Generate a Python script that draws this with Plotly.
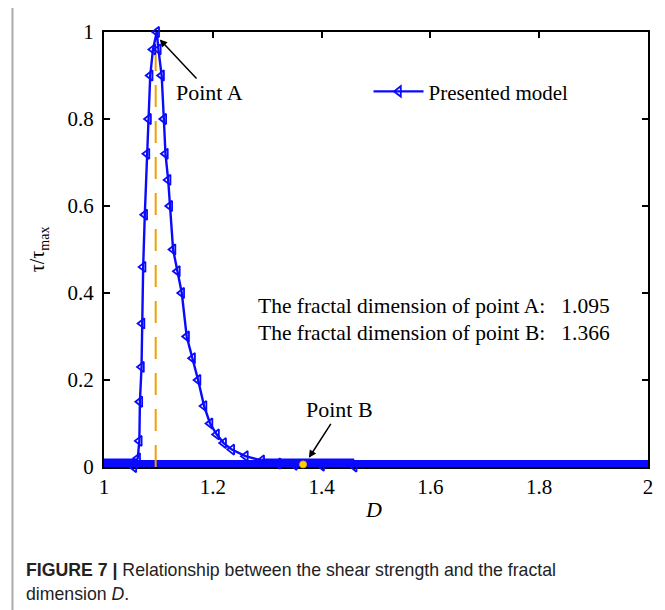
import plotly.graph_objects as go

# ---- data ----
D_curve = [1.055, 1.062, 1.065, 1.066, 1.069, 1.070, 1.072, 1.075, 1.079, 1.082, 1.085, 1.090,
           1.097, 1.100, 1.106, 1.110, 1.113, 1.118, 1.121, 1.127, 1.135, 1.143, 1.152, 1.163,
           1.173, 1.184, 1.195, 1.207, 1.220, 1.235, 1.260, 1.290, 1.320, 1.350, 1.400, 1.460]
tau_curve = [0.0, 0.02, 0.06, 0.15, 0.23, 0.33, 0.46, 0.58, 0.72, 0.80, 0.90, 0.96,
             1.0, 0.96, 0.90, 0.80, 0.72, 0.66, 0.60, 0.50, 0.45, 0.40, 0.30, 0.25,
             0.20, 0.14, 0.10, 0.075, 0.055, 0.04, 0.025, 0.015, 0.008, 0.005, 0.003, 0.001]

D_band = [1.0, 2.0]          # flat zero part of the curve
tau_band = [0.006, 0.006]
D_band_thick = [[1.0, 1.062], [1.29, 1.46]]

point_A = 1.095
point_B = 1.366

x_ticks = [1, 1.2, 1.4, 1.6, 1.8, 2]
x_tick_text = ["1", "1.2", "1.4", "1.6", "1.8", "2"]
y_ticks = [0, 0.2, 0.4, 0.6, 0.8, 1]
y_tick_text = ["0", "0.2", "0.4", "0.6", "0.8", "1"]

BLUE = "#0a0aff"
SERIF = "Liberation Serif"

# reference-pixel -> paper helpers (plot box: x 104..651, y 30..467)
PL, PW, PB, PH = 104.0, 547.0, 467.0, 437.0
def xp(px):
    return (px - PL) / PW
def yp(py):
    return (PB - py) / PH

fig = go.Figure()

# thick zero band
fig.add_trace(go.Scatter(x=D_band, y=tau_band, mode="lines",
                         line=dict(color=BLUE, width=9), showlegend=False,
                         cliponaxis=False, hoverinfo="skip"))
for seg in D_band_thick:
    fig.add_trace(go.Scatter(x=seg, y=[0.006, 0.006], mode="lines",
                             line=dict(color=BLUE, width=12), showlegend=False,
                             cliponaxis=False, hoverinfo="skip"))

# orange dashed line at point A
fig.add_trace(go.Scatter(x=[point_A, point_A], y=[0, 1], mode="lines",
                         line=dict(color="#f0a000", width=2, dash="22px,14px"),
                         showlegend=False, hoverinfo="skip"))

# main curve
fig.add_trace(go.Scatter(x=D_curve, y=tau_curve, mode="lines+markers",
                         name="Presented model",
                         line=dict(color=BLUE, width=2.4),
                         marker=dict(symbol="triangle-left-open", size=9,
                                     color=BLUE, line=dict(width=1.8, color=BLUE)),
                         cliponaxis=False))

# point B marker
fig.add_trace(go.Scatter(x=[point_B], y=[0.006], mode="markers",
                         marker=dict(color="#ffd200", size=7,
                                     line=dict(color="#f0a000", width=1)),
                         showlegend=False, cliponaxis=False))

axis_common = dict(showline=True, linecolor="black", linewidth=2, mirror="ticks",
                   ticks="inside", ticklen=6, tickwidth=2, tickcolor="black",
                   showgrid=False, zeroline=False, layer="below traces",
                   tickfont=dict(family=SERIF, size=21, color="black"))

fig.update_xaxes(range=[1, 2], tickvals=x_ticks, ticktext=x_tick_text,
                 ticklabelstandoff=0, **axis_common)
fig.update_yaxes(range=[0, 1], tickvals=y_ticks, ticktext=y_tick_text,
                 ticklabelstandoff=4, **axis_common)

annots = [
    dict(x=1.1024, y=0.983, ax=50, ay=53, text="Point A", showarrow=True,
         arrowhead=2, arrowsize=1, arrowwidth=1.5, arrowcolor="black",
         font=dict(family=SERIF, size=22, color="black")),
    dict(x=1.3766, y=0.021, ax=31, ay=-48, text="Point B", showarrow=True,
         arrowhead=2, arrowsize=1, arrowwidth=1.5, arrowcolor="black",
         font=dict(family=SERIF, size=22, color="black")),
    dict(xref="paper", yref="paper", x=xp(257), y=yp(305), xanchor="left",
         yanchor="middle", showarrow=False,
         text="The fractal dimension of point A:\u00a0\u00a0\u00a01.095",
         font=dict(family=SERIF, size=21.5, color="black")),
    dict(xref="paper", yref="paper", x=xp(257), y=yp(332), xanchor="left",
         yanchor="middle", showarrow=False,
         text="The fractal dimension of point B:\u00a0\u00a0\u00a01.366",
         font=dict(family=SERIF, size=21.5, color="black")),
    dict(xref="paper", yref="paper", x=xp(38), y=yp(248), xanchor="center",
         yanchor="middle", textangle=-90, showarrow=False, text="τ/τ<sub>max</sub>",
         font=dict(family=SERIF, size=20, color="black")),
    dict(xref="paper", yref="paper", x=xp(375), y=yp(510), xanchor="center",
         yanchor="middle", showarrow=False, text="<i>D</i>",
         font=dict(family=SERIF, size=22, color="black")),
    dict(xref="paper", yref="paper", x=xp(24), y=yp(570), xanchor="left",
         yanchor="middle", showarrow=False,
         text="<b>FIGURE 7 |</b> Relationship between the shear strength and the fractal",
         font=dict(family="Liberation Sans", size=17.7, color="#222222")),
    dict(xref="paper", yref="paper", x=xp(24), y=yp(595), xanchor="left",
         yanchor="middle", showarrow=False,
         text="dimension <i>D</i>.",
         font=dict(family="Liberation Sans", size=17.7, color="#222222")),
]

# page body has an 8px margin, so the figure is drawn 8px smaller
fig.update_layout(
    width=657, height=602,
    margin=dict(l=96, r=14, t=22, b=143),
    paper_bgcolor="white", plot_bgcolor="white",
    annotations=annots,
    showlegend=True,
    legend=dict(x=xp(370), y=yp(90), xanchor="left", yanchor="middle",
                bgcolor="rgba(0,0,0,0)", font=dict(family=SERIF, size=21, color="black"),
                itemwidth=50),
    shapes=[dict(type="rect", xref="paper", yref="paper",
                 x0=xp(12), x1=xp(720),
                 y0=yp(680), y1=yp(5),
                 line=dict(color="#aaaaaa", width=2), layer="below")],
)

fig.write_html("out.html")
